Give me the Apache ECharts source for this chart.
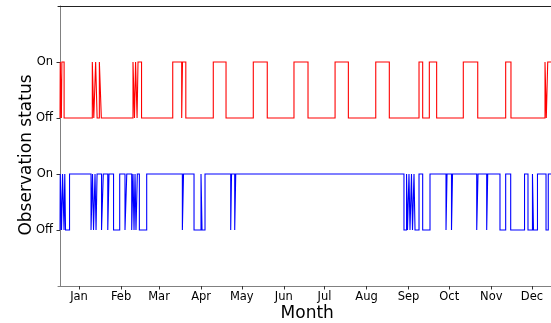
<!DOCTYPE html>
<html>
<head>
<meta charset="utf-8">
<script src="https://cdn.jsdelivr.net/npm/echarts@6/dist/echarts.min.js"></script>
<style>
  html, body { margin: 0; padding: 0; background: #fff; }
  #chart { width: 551px; height: 323px; }
</style>
</head>
<body>
<div id="chart"></div>
<script>
// Day of year (0 = Jan 1) at which each status change happens, and the status after it (1 = On, 0 = Off)
const redDays = [0, 0.15, 1.0, 1.35, 3.0,
  23.8, 24.9, 26.25, 27.35, 29.0, 30.45,
  53.8, 54.9, 55.7, 56.8, 57.5, 60.1,
  83.1, 89.7, 90.3, 92.75,
  113.0, 122.4, 142.5, 152.8, 172.5, 182.85, 202.8, 212.6, 232.8, 242.8,
  264.7, 267.4, 272.3, 277.7,
  297.35, 308.0, 328.6, 332.5,
  357.6, 358.55, 359.6, 365];
const redStatus = [0, 1, 0, 1, 0,
  1, 0, 1, 0, 1, 0,
  1, 0, 1, 0, 1, 0,
  1, 0, 1, 0,
  1, 0, 1, 0, 1, 0, 1, 0, 1, 0,
  1, 0, 1, 0,
  1, 0, 1, 0,
  1, 0, 1, 1];

const blueDays = [0, 0.15, 1.1, 1.85, 2.95, 3.5, 4.05, 7.0,
  22.85, 23.95, 24.7, 25.8, 26.55, 27.3, 30.6, 31.9, 35.2, 36.1, 39.45, 44.0,
  47.9, 49.2, 52.85, 53.8, 54.55, 55.3, 56.0, 57.0, 58.5, 63.9,
  90.2, 91.05, 98.8, 103.95, 104.7, 106.9,
  125.85, 126.45, 128.8, 129.55,
  253.6, 255.5, 256.2, 257.3, 258.05, 259.15, 259.9, 261.0, 261.75, 264.7,
  267.4, 272.8, 284.6, 285.35, 288.65, 289.4,
  307.25, 308.2, 314.6, 315.35, 324.4, 328.6, 332.3, 342.5,
  345.05, 348.35, 349.1, 352.05, 358.35, 360.0, 365];
const blueStatus = [0, 1, 0, 1, 0, 1, 0, 1,
  0, 1, 0, 1, 0, 1, 0, 1, 0, 1, 0, 1,
  0, 1, 0, 1, 0, 1, 0, 1, 0, 1,
  0, 1, 0, 1, 0, 1,
  0, 1, 0, 1,
  0, 1, 0, 1, 0, 1, 0, 1, 0, 1,
  0, 1, 0, 1, 0, 1,
  0, 1, 0, 1, 0, 1, 0, 1,
  0, 1, 0, 1, 0, 1, 1];

// Month ticks sit on the 15th of each month
const monthTickDays = [14, 45, 73, 104, 134, 165, 195, 226, 257, 287, 318, 348];
const monthLabels = ['Jan', 'Feb', 'Mar', 'Apr', 'May', 'Jun', 'Jul', 'Aug', 'Sep', 'Oct', 'Nov', 'Dec'];

// Status levels on the y axis: blue Off/On, red Off/On
const statusLevels = [1, 2, 3, 4];
const statusLabels = ['Off', 'On', 'Off', 'On'];

const FONT = 'DejaVu Sans';

function toSteps(days, status, base) {
  return days.map((d, i) => [d, base + status[i]]);
}

const chart = echarts.init(document.getElementById('chart'), null, { renderer: 'canvas' });

chart.setOption({
  animation: false,
  backgroundColor: '#ffffff',
  grid: { left: 58, top: 6, width: 498.4, height: 280, outerBoundsMode: 'none' },
  xAxis: [
    {
      type: 'value', min: -1.5, max: 366, position: 'bottom',
      axisLine: { show: true, lineStyle: { color: '#808080', width: 1 } },
      axisTick: { show: true, customValues: monthTickDays, length: 3.5, lineStyle: { color: '#333', width: 1 } },
      axisLabel: {
        show: true, customValues: monthTickDays, margin: 5,
        fontFamily: FONT, fontSize: 11.5, color: '#000',
        formatter: v => monthLabels[monthTickDays.indexOf(v)]
      },
      splitLine: { show: false },
      name: 'Month', nameLocation: 'middle', nameGap: 19, nameMoveOverlap: false,
      nameTextStyle: { fontFamily: FONT, fontSize: 17, color: '#000' }
    },
    {
      type: 'value', min: -1.5, max: 366, position: 'top',
      axisLine: { show: true, lineStyle: { color: '#222', width: 1 } },
      axisTick: { show: false }, axisLabel: { show: false }, splitLine: { show: false }
    }
  ],
  yAxis: {
    type: 'value', min: 0, max: 5,
    axisLine: { show: true, lineStyle: { color: '#808080', width: 1 } },
    axisTick: { show: true, customValues: statusLevels, length: 3.5, lineStyle: { color: '#333', width: 1 } },
    axisLabel: {
      show: true, customValues: statusLevels, margin: 5,
      fontFamily: FONT, fontSize: 11.5, color: '#000',
      formatter: v => statusLabels[statusLevels.indexOf(v)]
    },
    splitLine: { show: false },
    name: 'Observation status', nameLocation: 'middle', nameGap: 23, nameMoveOverlap: false,
    nameTextStyle: { fontFamily: FONT, fontSize: 17, color: '#000', padding: [0, 18, 0, 0] }
  },
  series: [
    {
      type: 'line', step: 'end', showSymbol: false, symbol: 'none',
      data: toSteps(redDays, redStatus, 3),
      lineStyle: { color: '#ff0000', width: 1.1, join: 'miter', cap: 'butt' }
    },
    {
      type: 'line', step: 'end', showSymbol: false, symbol: 'none',
      data: toSteps(blueDays, blueStatus, 1),
      lineStyle: { color: '#0000ff', width: 1.1, join: 'miter', cap: 'butt' }
    }
  ]
});
</script>
</body>
</html>
